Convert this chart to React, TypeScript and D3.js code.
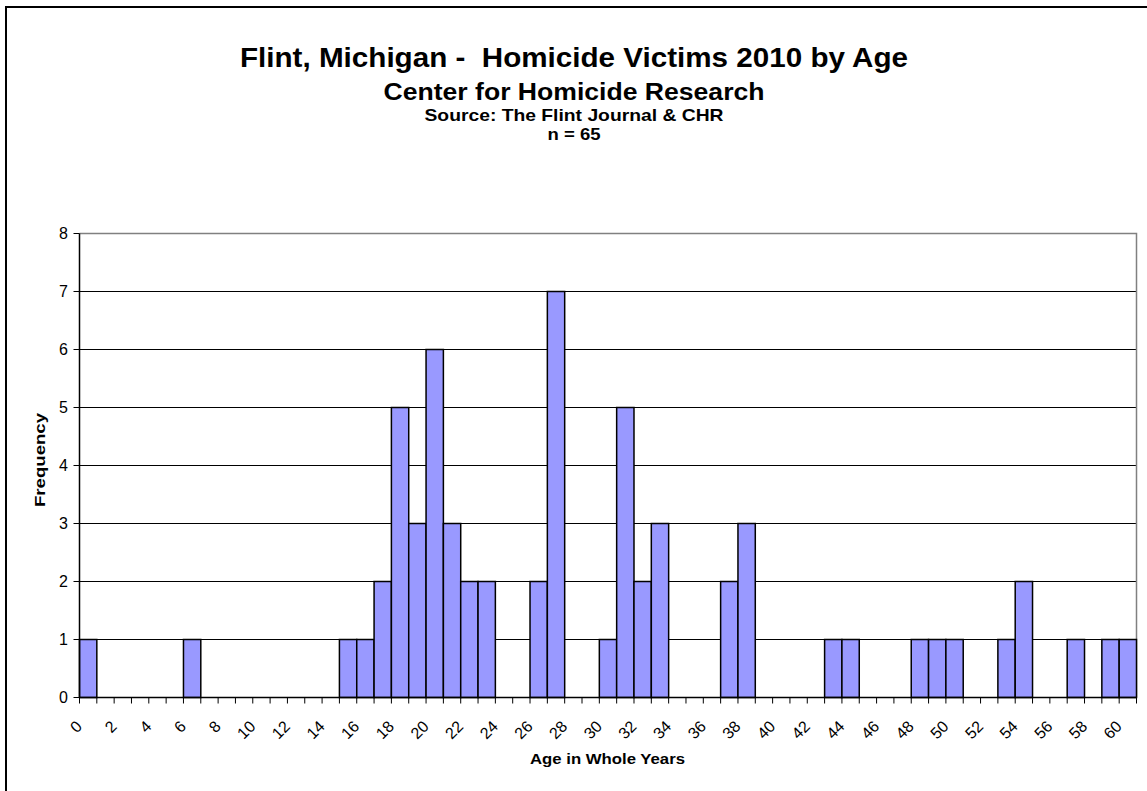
//@ts-nocheck
import * as d3 from 'd3';
import { useEffect, useRef } from 'react';

// Ages in whole years (categories on the x axis)
const ages = [
  0, 1, 2, 3, 4, 5, 6, 7, 8, 9, 10, 11, 12, 13, 14, 15, 16, 17, 18, 19, 20,
  21, 22, 23, 24, 25, 26, 27, 28, 29, 30, 31, 32, 33, 34, 35, 36, 37, 38, 39, 40,
  41, 42, 43, 44, 45, 46, 47, 48, 49, 50, 51, 52, 53, 54, 55, 56, 57, 58, 59, 60,
];

// Number of victims for each age
const frequency = [
  1, 0, 0, 0, 0, 0, 1, 0, 0, 0, 0, 0, 0, 0, 0, 1, 1, 2, 5, 3, 6,
  3, 2, 2, 0, 0, 2, 7, 0, 0, 1, 5, 2, 3, 0, 0, 0, 2, 3, 0, 0,
  0, 0, 1, 1, 0, 0, 0, 1, 1, 1, 0, 0, 1, 2, 0, 0, 1, 0, 1, 1,
];

const yTicks = [0, 1, 2, 3, 4, 5, 6, 7, 8];

const titles = [
  'Flint, Michigan -  Homicide Victims 2010 by Age',
  'Center for Homicide Research',
  'Source: The Flint Journal & CHR',
  'n = 65',
];

export default function App() {
  const ref = useRef<SVGSVGElement>(null);

  useEffect(() => {
    const SIZES = { WIDTH: 1147, HEIGHT: 791, LEFT: 79.5, RIGHT: 1136.5, TOP: 233.5, BOTTOM: 697.5 };
    const FONT = 'Arial, "Liberation Sans", sans-serif';

    const svg = d3.select(ref.current);
    svg.selectAll('*').remove();

    // outer chart border
    svg
      .append('rect')
      .attr('x', 6)
      .attr('y', 7)
      .attr('width', 1160)
      .attr('height', 800)
      .attr('fill', 'white')
      .attr('stroke', 'black')
      .attr('stroke-width', 2);

    // titles (sizes picked by glyph height, lengths stretched to match)
    const titleSizes = [28, 23, 17, 17];
    const titleLen = [668, 381, 299, 53];
    const titleY = [67, 100, 121, 140];
    svg
      .append('g')
      .selectAll('text')
      .data(titles)
      .join('text')
      .attr('x', (d, i) => 574 - titleLen[i] / 2)
      .attr('y', (d, i) => titleY[i])
      .attr('font-family', FONT)
      .attr('font-weight', 'bold')
      .attr('font-size', (d, i) => titleSizes[i])
      .attr('textLength', (d, i) => titleLen[i])
      .attr('lengthAdjust', 'spacingAndGlyphs')
      .style('white-space', 'pre')
      .text((d) => d);

    const x = d3.scaleBand<number>().domain(ages).range([SIZES.LEFT, SIZES.RIGHT]).padding(0);
    const y = d3.scaleLinear().domain([0, 8]).range([SIZES.BOTTOM, SIZES.TOP]);

    // gridlines
    svg
      .append('g')
      .selectAll('line')
      .data(yTicks.slice(1, -1))
      .join('line')
      .attr('x1', SIZES.LEFT)
      .attr('x2', SIZES.RIGHT)
      .attr('y1', (d) => y(d))
      .attr('y2', (d) => y(d))
      .attr('stroke', 'black')
      .attr('stroke-width', 1);

    // plot area frame (top, right)
    svg
      .append('path')
      .attr('d', `M${SIZES.LEFT},${SIZES.TOP}H${SIZES.RIGHT}V${SIZES.BOTTOM}`)
      .attr('fill', 'none')
      .attr('stroke', '#808080')
      .attr('stroke-width', 1.5);

    // bars
    svg
      .append('g')
      .selectAll('rect')
      .data(ages.map((a, i) => ({ age: a, n: frequency[i] })).filter((d) => d.n > 0))
      .join('rect')
      .attr('x', (d) => x(d.age))
      .attr('y', (d) => y(d.n))
      .attr('width', x.bandwidth())
      .attr('height', (d) => y(0) - y(d.n))
      .attr('fill', '#9999FF')
      .attr('stroke', 'black')
      .attr('stroke-width', 1.5);

    // y axis
    const yAxisG = svg.append('g');
    yAxisG
      .append('line')
      .attr('x1', SIZES.LEFT)
      .attr('x2', SIZES.LEFT)
      .attr('y1', SIZES.TOP)
      .attr('y2', SIZES.BOTTOM)
      .attr('stroke', 'black')
      .attr('stroke-width', 1.5);
    yAxisG
      .selectAll('line.tick')
      .data(yTicks)
      .join('line')
      .attr('class', 'tick')
      .attr('x1', SIZES.LEFT - 6)
      .attr('x2', SIZES.LEFT)
      .attr('y1', (d) => y(d))
      .attr('y2', (d) => y(d))
      .attr('stroke', 'black');
    yAxisG
      .selectAll('text')
      .data(yTicks)
      .join('text')
      .attr('x', 68)
      .attr('y', (d) => y(d))
      .attr('dy', '0.36em')
      .attr('text-anchor', 'end')
      .attr('font-family', FONT)
      .attr('font-size', 16)
      .text((d) => d);

    // x axis: ticks at category boundaries
    const xAxisG = svg.append('g');
    xAxisG
      .append('line')
      .attr('x1', SIZES.LEFT)
      .attr('x2', SIZES.RIGHT)
      .attr('y1', SIZES.BOTTOM)
      .attr('y2', SIZES.BOTTOM)
      .attr('stroke', 'black')
      .attr('stroke-width', 1.5);
    xAxisG
      .selectAll('line.tick')
      .data([...ages, null])
      .join('line')
      .attr('class', 'tick')
      .attr('x1', (d) => (d === null ? SIZES.RIGHT : x(d)))
      .attr('x2', (d) => (d === null ? SIZES.RIGHT : x(d)))
      .attr('y1', SIZES.BOTTOM)
      .attr('y2', SIZES.BOTTOM + 6)
      .attr('stroke', 'black');
    xAxisG
      .selectAll('text')
      .data(ages.filter((a) => a % 2 === 0))
      .join('text')
      .attr('transform', (d) => `translate(${x(d) + x.bandwidth() / 2 - 5},${SIZES.BOTTOM + 30}) rotate(-45)`)
      .attr('text-anchor', 'end')
      .attr('font-family', FONT)
      .attr('font-size', 16)
      .text((d) => d);

    // axis titles
    svg
      .append('text')
      .attr('x', 530)
      .attr('y', 764)
      .attr('font-family', FONT)
      .attr('font-weight', 'bold')
      .attr('font-size', 15)
      .attr('textLength', 155)
      .attr('lengthAdjust', 'spacingAndGlyphs')
      .text('Age in Whole Years');
    svg
      .append('text')
      .attr('transform', 'translate(45,507) rotate(-90)')
      .attr('font-family', FONT)
      .attr('font-weight', 'bold')
      .attr('font-size', 15)
      .attr('textLength', 94)
      .attr('lengthAdjust', 'spacingAndGlyphs')
      .text('Frequency');
  }, []);

  return (
    <svg
      ref={ref}
      width={1147}
      height={791}
      style={{ position: 'absolute', left: 0, top: 0, background: 'white' }}
    />
  );
}
